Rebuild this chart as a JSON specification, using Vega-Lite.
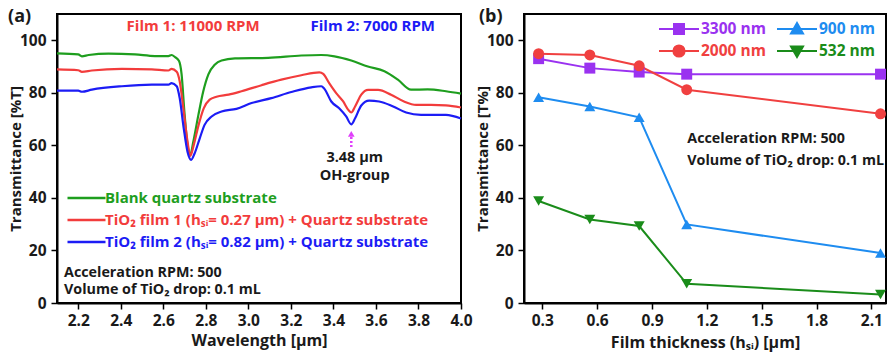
{
  "$schema": "https://vega.github.io/schema/vega-lite/v6.json",
  "background": "white",
  "padding": {"left": 7, "top": 6, "right": 2, "bottom": 2},
  "spacing": 0,
  "config": {
    "font": "Open Sans",
    "view": {"stroke": "black", "strokeWidth": 2},
    "axis": {
      "grid": false,
      "domainColor": "black",
      "domainWidth": 2,
      "tickColor": "black",
      "tickWidth": 1.5,
      "labelFont": "Open Sans",
      "labelFontWeight": "bold",
      "labelFontSize": 15.5,
      "labelColor": "#1a1a1a",
      "titleFont": "Open Sans",
      "titleFontWeight": "bold",
      "titleFontSize": 15.5,
      "titleColor": "#1a1a1a"
    },
    "legend": {
      "labelFont": "Open Sans",
      "labelFontWeight": "bold",
      "padding": 0
    }
  },
  "resolve": {"scale": {"color": "independent", "shape": "independent"}, "legend": {"color": "independent"}},
  "datasets": {
    "spec": [
      {"x": 2.10, "y": 95.0, "s": "g"}, {"x": 2.20, "y": 94.6, "s": "g"}, {"x": 2.217, "y": 93.9, "s": "g"}, {"x": 2.249, "y": 94.4, "s": "g"},
      {"x": 2.342, "y": 94.9, "s": "g"}, {"x": 2.467, "y": 94.6, "s": "g"}, {"x": 2.561, "y": 94.0, "s": "g"}, {"x": 2.624, "y": 94.0, "s": "g"},
      {"x": 2.639, "y": 94.4, "s": "g"}, {"x": 2.655, "y": 93.6, "s": "g"}, {"x": 2.674, "y": 92.1, "s": "g"}, {"x": 2.686, "y": 87.0, "s": "g"},
      {"x": 2.699, "y": 72.9, "s": "g"}, {"x": 2.714, "y": 60.1, "s": "g"}, {"x": 2.727, "y": 56.5, "s": "g"}, {"x": 2.741, "y": 61.4, "s": "g"},
      {"x": 2.765, "y": 71.6, "s": "g"}, {"x": 2.788, "y": 80.6, "s": "g"}, {"x": 2.812, "y": 87.0, "s": "g"}, {"x": 2.843, "y": 90.8, "s": "g"},
      {"x": 2.874, "y": 92.3, "s": "g"}, {"x": 2.937, "y": 93.1, "s": "g"}, {"x": 3.093, "y": 93.3, "s": "g"}, {"x": 3.249, "y": 94.2, "s": "g"},
      {"x": 3.343, "y": 94.4, "s": "g"}, {"x": 3.405, "y": 93.9, "s": "g"}, {"x": 3.484, "y": 92.3, "s": "g"}, {"x": 3.562, "y": 90.0, "s": "g"},
      {"x": 3.640, "y": 88.2, "s": "g"}, {"x": 3.703, "y": 85.0, "s": "g"}, {"x": 3.765, "y": 81.2, "s": "g"}, {"x": 3.843, "y": 81.3, "s": "g"},
      {"x": 3.929, "y": 80.6, "s": "g"}, {"x": 4.0, "y": 79.7, "s": "g"},

      {"x": 2.10, "y": 88.9, "s": "r"}, {"x": 2.20, "y": 88.6, "s": "r"}, {"x": 2.217, "y": 88.0, "s": "r"}, {"x": 2.264, "y": 88.5, "s": "r"},
      {"x": 2.405, "y": 89.1, "s": "r"}, {"x": 2.546, "y": 88.9, "s": "r"}, {"x": 2.624, "y": 88.5, "s": "r"}, {"x": 2.639, "y": 89.1, "s": "r"},
      {"x": 2.663, "y": 88.0, "s": "r"}, {"x": 2.677, "y": 84.4, "s": "r"}, {"x": 2.696, "y": 72.9, "s": "r"}, {"x": 2.714, "y": 61.4, "s": "r"},
      {"x": 2.727, "y": 56.0, "s": "r"}, {"x": 2.743, "y": 60.1, "s": "r"}, {"x": 2.766, "y": 67.8, "s": "r"}, {"x": 2.79, "y": 74.1, "s": "r"},
      {"x": 2.818, "y": 77.4, "s": "r"}, {"x": 2.85, "y": 78.5, "s": "r"}, {"x": 2.907, "y": 79.3, "s": "r"}, {"x": 2.968, "y": 80.6, "s": "r"},
      {"x": 3.062, "y": 82.9, "s": "r"}, {"x": 3.155, "y": 85.0, "s": "r"}, {"x": 3.249, "y": 86.7, "s": "r"}, {"x": 3.334, "y": 87.8, "s": "r"},
      {"x": 3.352, "y": 87.2, "s": "r"}, {"x": 3.38, "y": 83.7, "s": "r"}, {"x": 3.413, "y": 79.9, "s": "r"}, {"x": 3.446, "y": 76.7, "s": "r"},
      {"x": 3.47, "y": 73.5, "s": "r"}, {"x": 3.484, "y": 72.5, "s": "r"}, {"x": 3.502, "y": 74.8, "s": "r"}, {"x": 3.531, "y": 79.3, "s": "r"},
      {"x": 3.563, "y": 81.1, "s": "r"}, {"x": 3.61, "y": 81.1, "s": "r"}, {"x": 3.671, "y": 79.3, "s": "r"}, {"x": 3.732, "y": 76.7, "s": "r"},
      {"x": 3.789, "y": 75.4, "s": "r"}, {"x": 3.859, "y": 75.4, "s": "r"}, {"x": 3.929, "y": 75.2, "s": "r"}, {"x": 4.0, "y": 74.4, "s": "r"},

      {"x": 2.10, "y": 80.8, "s": "b"}, {"x": 2.20, "y": 80.8, "s": "b"}, {"x": 2.217, "y": 80.4, "s": "b"}, {"x": 2.264, "y": 81.2, "s": "b"},
      {"x": 2.405, "y": 82.5, "s": "b"}, {"x": 2.546, "y": 83.1, "s": "b"}, {"x": 2.624, "y": 83.1, "s": "b"}, {"x": 2.639, "y": 83.7, "s": "b"},
      {"x": 2.663, "y": 82.5, "s": "b"}, {"x": 2.677, "y": 78.0, "s": "b"}, {"x": 2.696, "y": 66.5, "s": "b"}, {"x": 2.714, "y": 57.5, "s": "b"},
      {"x": 2.731, "y": 54.5, "s": "b"}, {"x": 2.747, "y": 56.9, "s": "b"}, {"x": 2.771, "y": 62.6, "s": "b"}, {"x": 2.794, "y": 67.8, "s": "b"},
      {"x": 2.827, "y": 71.0, "s": "b"}, {"x": 2.874, "y": 72.9, "s": "b"}, {"x": 2.944, "y": 73.9, "s": "b"}, {"x": 3.015, "y": 76.1, "s": "b"},
      {"x": 3.108, "y": 78.0, "s": "b"}, {"x": 3.202, "y": 80.3, "s": "b"}, {"x": 3.296, "y": 82.1, "s": "b"}, {"x": 3.343, "y": 82.5, "s": "b"},
      {"x": 3.357, "y": 81.6, "s": "b"}, {"x": 3.39, "y": 76.7, "s": "b"}, {"x": 3.427, "y": 74.1, "s": "b"}, {"x": 3.46, "y": 71.0, "s": "b"},
      {"x": 3.484, "y": 68.0, "s": "b"}, {"x": 3.502, "y": 70.3, "s": "b"}, {"x": 3.531, "y": 75.2, "s": "b"}, {"x": 3.568, "y": 77.0, "s": "b"},
      {"x": 3.615, "y": 76.7, "s": "b"}, {"x": 3.681, "y": 74.8, "s": "b"}, {"x": 3.742, "y": 72.5, "s": "b"}, {"x": 3.812, "y": 71.6, "s": "b"},
      {"x": 3.929, "y": 71.6, "s": "b"}, {"x": 4.0, "y": 70.2, "s": "b"}
    ],
    "thick": [
      {"h": 0.28, "T": 93.0, "w": "3300 nm"}, {"h": 0.56, "T": 89.4, "w": "3300 nm"}, {"h": 0.83, "T": 87.9, "w": "3300 nm"}, {"h": 1.09, "T": 87.1, "w": "3300 nm"}, {"h": 2.15, "T": 87.1, "w": "3300 nm"},
      {"h": 0.28, "T": 94.9, "w": "2000 nm"}, {"h": 0.56, "T": 94.4, "w": "2000 nm"}, {"h": 0.83, "T": 90.3, "w": "2000 nm"}, {"h": 1.09, "T": 81.2, "w": "2000 nm"}, {"h": 2.15, "T": 72.0, "w": "2000 nm"},
      {"h": 0.28, "T": 78.3, "w": "900 nm"}, {"h": 0.56, "T": 74.8, "w": "900 nm"}, {"h": 0.83, "T": 70.7, "w": "900 nm"}, {"h": 1.09, "T": 29.9, "w": "900 nm"}, {"h": 2.15, "T": 19.0, "w": "900 nm"},
      {"h": 0.28, "T": 38.8, "w": "532 nm"}, {"h": 0.56, "T": 31.8, "w": "532 nm"}, {"h": 0.83, "T": 29.3, "w": "532 nm"}, {"h": 1.09, "T": 7.3, "w": "532 nm"}, {"h": 2.15, "T": 3.2, "w": "532 nm"}
    ]
  },
  "hconcat": [
    {
      "width": 404,
      "height": 289,
      "layer": [
        {
          "data": {"name": "spec"},
          "mark": {"type": "line", "strokeWidth": 2.2, "interpolate": "monotone"},
          "encoding": {
            "x": {
              "field": "x", "type": "quantitative",
              "scale": {"domain": [2.1, 4.0], "nice": false, "zero": false},
              "axis": {
                "title": "Wavelength [µm]",
                "titleFontSize": 16,
                "values": [2.2, 2.3, 2.4, 2.5, 2.6, 2.7, 2.8, 2.9, 3.0, 3.1, 3.2, 3.3, 3.4, 3.5, 3.6, 3.7, 3.8, 3.9, 4.0],
                "format": ".1f",
                "labelFlush": false,
                "labelExpr": "round(datum.value * 10) % 2 === 0 ? datum.label : ''",
                "tickSize": {"condition": {"test": "round(datum.value * 10) % 2 === 0", "value": 6}, "value": 3.5},
                "labelPadding": 4,
                "titlePadding": 4
              }
            },
            "y": {
              "field": "y", "type": "quantitative",
              "scale": {"domain": [0, 110], "nice": false},
              "axis": {
                "title": "Transmittance [%T]",
                "titleFontSize": 15,
                "values": [0, 10, 20, 30, 40, 50, 60, 70, 80, 90, 100],
                "labelExpr": "datum.value % 20 === 0 ? datum.label : ''",
                "tickSize": {"condition": {"test": "datum.value % 20 === 0", "value": 6}, "value": 3.5},
                "labelPadding": 5,
                "titlePadding": -4
              }
            },
            "color": {
              "field": "s", "type": "nominal",
              "scale": {"domain": ["g", "r", "b"], "range": ["#1e9e1e", "#f23c3c", "#1c1cf5"]},
              "legend": {
                "title": null,
                "orient": "none",
                "legendX": 9,
                "legendY": 175,
                "symbolType": "stroke",
                "symbolSize": 1444,
                "symbolStrokeWidth": 2.5,
                "clipHeight": 18,
                "rowPadding": 4,
                "labelOffset": -2,
                "labelFontSize": 15,
                "labelLimit": 0,
                "labelExpr": "datum.value === 'g' ? 'Blank quartz substrate' : datum.value === 'r' ? 'TiO₂ film 1 (hₛᵢ= 0.27 µm) + Quartz substrate' : 'TiO₂ film 2 (hₛᵢ= 0.82 µm) + Quartz  substrate'",
                "encode": {
                  "labels": {"update": {"fill": {"signal": "datum.value === 'g' ? '#1e9e1e' : datum.value === 'r' ? '#f23c3c' : '#1c1cf5'"}}}
                }
              }
            }
          }
        },
        {
          "data": {"values": [{}]},
          "mark": {"type": "rule", "color": "#e040fb", "strokeWidth": 2.5, "strokeDash": [2, 2]},
          "encoding": {"x": {"datum": 3.484}, "y": {"datum": 59.4}, "y2": {"datum": 63.5}}
        },
        {
          "data": {"values": [{}]},
          "mark": {"type": "point", "shape": "triangle-up", "filled": true, "color": "#e040fb", "size": 45, "opacity": 1},
          "encoding": {"x": {"datum": 3.484}, "y": {"datum": 64.4}}
        },
        {
          "data": {"values": [{}]},
          "mark": {"type": "text", "text": "3.48 µm", "fontSize": 14.5, "fontWeight": "bold", "color": "#1a1a1a", "baseline": "middle"},
          "encoding": {"x": {"datum": 3.5}, "y": {"datum": 55.2}}
        },
        {
          "data": {"values": [{}]},
          "mark": {"type": "text", "text": "OH-group", "fontSize": 14.5, "fontWeight": "bold", "color": "#1a1a1a", "baseline": "middle"},
          "encoding": {"x": {"datum": 3.5}, "y": {"datum": 48.4}}
        },
        {
          "data": {"values": [{}]},
          "mark": {"type": "text", "text": "Film 1: 11000 RPM", "fontSize": 15, "fontWeight": "bold", "color": "#f23c3c", "baseline": "middle"},
          "encoding": {"x": {"datum": 2.74}, "y": {"datum": 105.5}}
        },
        {
          "data": {"values": [{}]},
          "mark": {"type": "text", "text": "Film 2: 7000 RPM", "fontSize": 15, "fontWeight": "bold", "color": "#1c1cf5", "baseline": "middle"},
          "encoding": {"x": {"datum": 3.585}, "y": {"datum": 105.5}}
        },
        {
          "data": {"values": [{}]},
          "mark": {"type": "text", "text": "Acceleration RPM: 500", "fontSize": 14.3, "fontWeight": "bold", "color": "#1a1a1a", "align": "left", "baseline": "middle"},
          "encoding": {"x": {"datum": 2.133}, "y": {"datum": 11.6}}
        },
        {
          "data": {"values": [{}]},
          "mark": {"type": "text", "text": "Volume of TiO₂ drop: 0.1 mL", "fontSize": 14.3, "fontWeight": "bold", "color": "#1a1a1a", "align": "left", "baseline": "middle"},
          "encoding": {"x": {"datum": 2.133}, "y": {"datum": 5.0}}
        },
        {
          "data": {"values": [{}]},
          "mark": {"type": "text", "text": "(a)", "fontSize": 18, "fontWeight": "bold", "color": "#1a1a1a", "align": "left", "baseline": "middle"},
          "encoding": {"x": {"datum": 1.87}, "y": {"datum": 108.9}}
        }
      ]
    },
    {
      "width": 362,
      "height": 289,
      "layer": [
        {
          "data": {"name": "thick"},
          "mark": {"type": "line", "strokeWidth": 2},
          "encoding": {
            "x": {
              "field": "h", "type": "quantitative",
              "scale": {"domain": [0.2, 2.18], "nice": false, "zero": false},
              "axis": {
                "title": "Film thickness (hₛᵢ) [µm]",
                "titleFontSize": 16,
                "values": [0.3, 0.45, 0.6, 0.75, 0.9, 1.05, 1.2, 1.35, 1.5, 1.65, 1.8, 1.95, 2.1],
                "format": ".1f",
                "labelFlush": false,
                "labelExpr": "round(datum.value * 100) % 30 === 0 ? datum.label : ''",
                "tickSize": {"condition": {"test": "round(datum.value * 100) % 30 === 0", "value": 6}, "value": 3.5},
                "labelPadding": 4,
                "titlePadding": 6
              }
            },
            "y": {
              "field": "T", "type": "quantitative",
              "scale": {"domain": [0, 110], "nice": false},
              "axis": {
                "title": "Transmittance [T%]",
                "titleFontSize": 15,
                "values": [0, 10, 20, 30, 40, 50, 60, 70, 80, 90, 100],
                "labelExpr": "datum.value % 20 === 0 ? datum.label : ''",
                "tickSize": {"condition": {"test": "datum.value % 20 === 0", "value": 6}, "value": 3.5},
                "labelPadding": 5,
                "titlePadding": -4
              }
            },
            "color": {
              "field": "w", "type": "nominal",
              "scale": {"domain": ["3300 nm", "2000 nm", "900 nm", "532 nm"], "range": ["#9a32f0", "#f04040", "#1e8cf0", "#1a8c1a"]},
              "legend": {
                "title": null,
                "orient": "none",
                "legendX": 134,
                "legendY": 6,
                "columns": 2,
                "columnPadding": 10,
                "symbolSize": 1600,
                "clipHeight": 18,
                "rowPadding": 4,
                "labelOffset": 1,
                "labelFontSize": 15.5,
                "labelLimit": 0,
                "encode": {
                  "symbols": {"update": {
                    "shape": {"signal": "datum.value === '3300 nm' ? 'M-1,0H1M-0.25,-0.25H0.25V0.25H-0.25Z' : datum.value === '2000 nm' ? 'M-1,0H1M-0.28,0A0.28,0.28,0,1,0,0.28,0A0.28,0.28,0,1,0,-0.28,0Z' : datum.value === '900 nm' ? 'M-1,0H1M0,-0.3L0.3,0.22L-0.3,0.22Z' : 'M-1,0H1M0,0.3L0.3,-0.22L-0.3,-0.22Z'"},
                    "fill": {"signal": "datum.value === '3300 nm' ? '#9a32f0' : datum.value === '2000 nm' ? '#f04040' : datum.value === '900 nm' ? '#1e8cf0' : '#1a8c1a'"},
                    "stroke": {"signal": "datum.value === '3300 nm' ? '#9a32f0' : datum.value === '2000 nm' ? '#f04040' : datum.value === '900 nm' ? '#1e8cf0' : '#1a8c1a'"},
                    "strokeWidth": {"value": 2},
                    "opacity": {"value": 1},
                    "fillOpacity": {"value": 1}
                  }},
                  "labels": {"update": {"fill": {"signal": "datum.value === '3300 nm' ? '#9a32f0' : datum.value === '2000 nm' ? '#f04040' : datum.value === '900 nm' ? '#1e8cf0' : '#1a8c1a'"}}}
                }
              }
            }
          }
        },
        {
          "data": {"name": "thick"},
          "mark": {"type": "point", "filled": true, "size": 120, "opacity": 1},
          "encoding": {
            "x": {"field": "h", "type": "quantitative"},
            "y": {"field": "T", "type": "quantitative"},
            "color": {"field": "w", "type": "nominal"},
            "shape": {
              "condition": [
                {"test": "datum.w === '3300 nm'", "value": "square"},
                {"test": "datum.w === '900 nm'", "value": "triangle-up"},
                {"test": "datum.w === '2000 nm'", "value": "circle"}
              ],
              "value": "triangle-down"
            }
          }
        },
        {
          "data": {"values": [{}]},
          "mark": {"type": "text", "text": "Acceleration RPM: 500", "fontSize": 14.3, "fontWeight": "bold", "color": "#1a1a1a", "align": "left", "baseline": "middle"},
          "encoding": {"x": {"datum": 1.093}, "y": {"datum": 62.5}}
        },
        {
          "data": {"values": [{}]},
          "mark": {"type": "text", "text": "Volume of TiO₂ drop: 0.1 mL", "fontSize": 14.3, "fontWeight": "bold", "color": "#1a1a1a", "align": "left", "baseline": "middle"},
          "encoding": {"x": {"datum": 1.093}, "y": {"datum": 54.0}}
        },
        {
          "data": {"values": [{}]},
          "mark": {"type": "text", "text": "(b)", "fontSize": 18, "fontWeight": "bold", "color": "#1a1a1a", "align": "left", "baseline": "middle"},
          "encoding": {"x": {"datum": -0.046}, "y": {"datum": 108.9}}
        }
      ]
    }
  ]
}
